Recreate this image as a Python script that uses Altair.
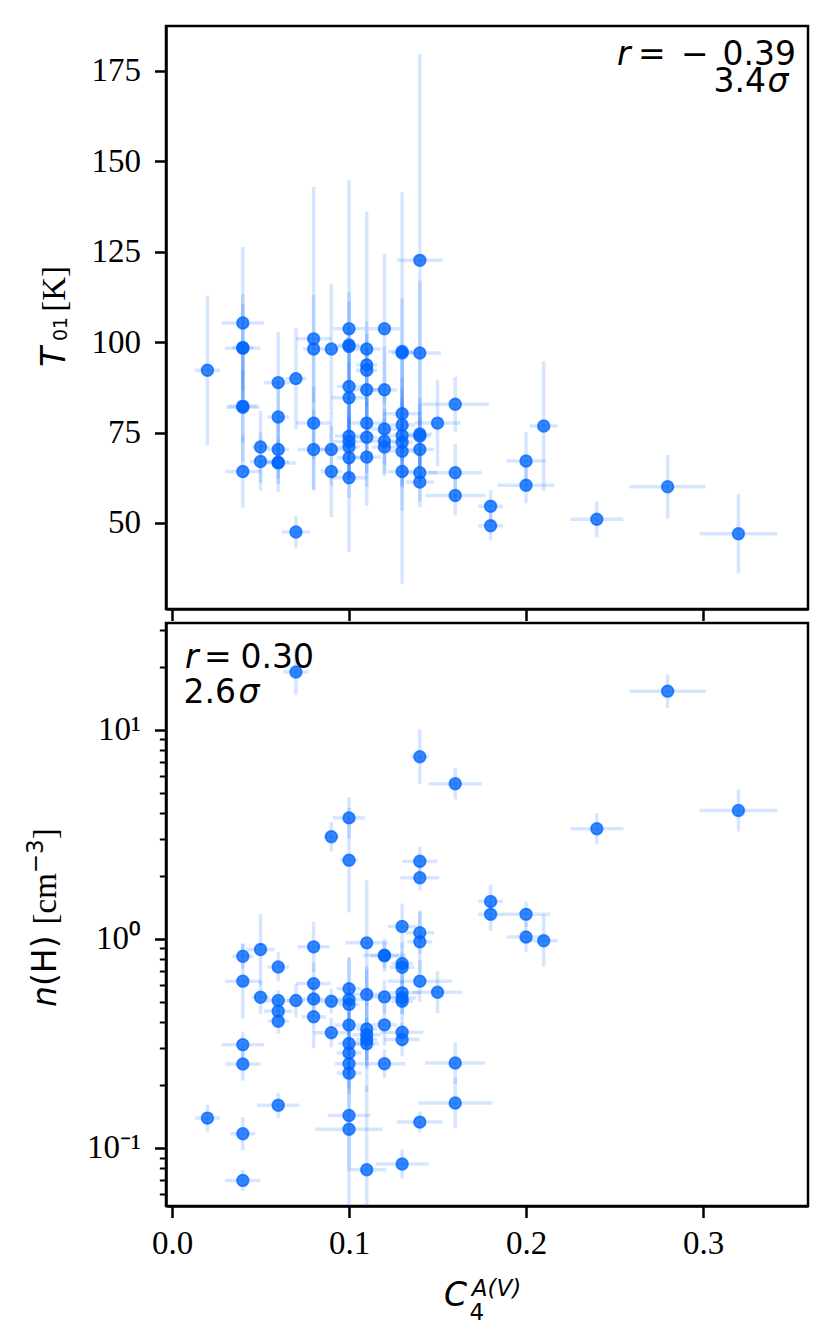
import altair as alt
import pandas as pd

# ---------------- data: upper panel (T01 [K]) ----------------
t_x = [0.02,
       0.04, 0.04, 0.04, 0.04, 0.04, 0.04,
       0.05, 0.05,
       0.06, 0.06, 0.06, 0.06, 0.06,
       0.07, 0.07,
       0.08, 0.08, 0.08, 0.08,
       0.09, 0.09, 0.09,
       0.10, 0.10, 0.10, 0.10, 0.10, 0.10, 0.10, 0.10, 0.10, 0.10,
       0.11, 0.11, 0.11, 0.11, 0.11, 0.11, 0.11,
       0.12, 0.12, 0.12, 0.12, 0.12,
       0.13, 0.13, 0.13, 0.13, 0.13, 0.13, 0.13, 0.13,
       0.14, 0.14, 0.14, 0.14, 0.14, 0.14, 0.14,
       0.15,
       0.16, 0.16, 0.16,
       0.18, 0.18,
       0.20, 0.20,
       0.21, 0.24, 0.28, 0.32]
t_xerr = [0.007,
          0.012, 0.010, 0.006, 0.0095, 0.008, 0.010,
          0.005, 0.006,
          0.008, 0.006, 0.006, 0.010, 0.006,
          0.006, 0.008,
          0.010, 0.006, 0.010, 0.009,
          0.004, 0.006, 0.006,
          0.009, 0.008, 0.006, 0.007, 0.010, 0.008, 0.009, 0.006, 0.007, 0.010,
          0.008, 0.006, 0.006, 0.008, 0.009, 0.006, 0.008,
          0.009, 0.007, 0.010, 0.012, 0.007,
          0.008, 0.006, 0.011, 0.007, 0.009, 0.006, 0.008, 0.008,
          0.013, 0.012, 0.007, 0.006, 0.008, 0.010, 0.008,
          0.013,
          0.019, 0.015, 0.017,
          0.007, 0.007,
          0.011, 0.016,
          0.008, 0.015, 0.0215, 0.022]
t_val = [92.2,
         105.3, 98.3, 98.5, 82.0, 82.3, 64.2,
         71.0, 67.0,
         88.8, 79.3, 70.3, 66.6, 66.8,
         89.9, 47.5,
         100.9, 98.1, 77.6, 70.3,
         98.1, 70.3, 64.2,
         103.7, 98.8, 99.2, 87.7, 84.6, 74.0, 72.5, 71.0, 68.0, 62.5,
         98.1, 93.7, 92.2, 86.8, 77.6, 73.7, 68.2,
         103.7, 86.8, 76.0, 72.6, 71.0,
         97.4, 97.0, 80.2, 77.1, 74.2, 72.3, 69.8, 64.2,
         122.6, 97.0, 74.6, 74.0, 70.3, 63.9, 61.3,
         77.6,
         82.8, 63.9, 57.6,
         54.6, 49.2,
         67.1, 60.4,
         76.8, 51.0, 60.0, 47.0]
t_err = [20.7,
         21, 15, 12, 15, 10, 10,
         10, 8,
         14, 10, 8, 8, 6,
         14, 4.4,
         42, 15, 10, 11,
         18, 10, 12.6,
         41, 15, 12, 13, 10, 12, 10, 9, 11, 20.5,
         38, 12, 10, 12, 10, 10, 13.5,
         20.7, 12, 10, 9, 8,
         44, 15, 10, 10, 9, 12, 10, 31,
         57, 20, 10, 9, 9, 8, 7,
         12,
         7.6, 8, 5.5,
         4.5, 4,
         8, 5,
         18, 5, 8.8, 11]

# ---------------- data: lower panel (n(H) [cm^-3]) ----------------
n_x = [0.02,
       0.04, 0.04, 0.04, 0.04, 0.04, 0.04,
       0.05, 0.05,
       0.06, 0.06, 0.06, 0.06, 0.06,
       0.07, 0.07,
       0.08, 0.08, 0.08, 0.08,
       0.09, 0.09, 0.09,
       0.10, 0.10, 0.10, 0.10, 0.10, 0.10, 0.10, 0.10, 0.10, 0.10, 0.10, 0.10,
       0.11, 0.11, 0.11, 0.11, 0.11, 0.11, 0.11,
       0.12, 0.12, 0.12, 0.12, 0.12,
       0.13, 0.13, 0.13, 0.13, 0.13, 0.13, 0.13, 0.13, 0.13,
       0.14, 0.14, 0.14, 0.14, 0.14, 0.14, 0.14,
       0.15,
       0.16, 0.16, 0.16,
       0.18, 0.18,
       0.20, 0.20,
       0.21, 0.24, 0.28, 0.32]
n_xerr = [0.007,
          0.006, 0.010, 0.012, 0.010, 0.007, 0.010,
          0.008, 0.005,
          0.006, 0.007, 0.008, 0.006, 0.012,
          0.007, 0.005,
          0.009, 0.010, 0.006, 0.007,
          0.004, 0.010, 0.010,
          0.009, 0.005, 0.007, 0.008, 0.006, 0.008, 0.006, 0.007, 0.008, 0.007, 0.012, 0.019,
          0.012, 0.008, 0.006, 0.008, 0.006, 0.007, 0.011,
          0.012, 0.008, 0.008, 0.007, 0.012,
          0.008, 0.006, 0.007, 0.010, 0.008, 0.006, 0.012, 0.010, 0.015,
          0.005, 0.010, 0.011, 0.008, 0.007, 0.018, 0.013,
          0.014,
          0.015, 0.017, 0.021,
          0.007, 0.007,
          0.0135, 0.011,
          0.008, 0.015, 0.0215, 0.022]
n_val = [0.139,
         0.826, 0.628, 0.312, 0.252, 0.117, 0.070,
         0.889, 0.526,
         0.734, 0.507, 0.451, 0.404, 0.160,
         18.9, 0.507,
         0.916, 0.611, 0.516, 0.424,
         3.08, 0.503, 0.356,
         3.79, 2.38, 0.577, 0.513, 0.486, 0.387, 0.316, 0.285, 0.253, 0.228, 0.143, 0.123,
         0.957, 0.542, 0.371, 0.348, 0.330, 0.315, 0.0787,
         0.836, 0.830, 0.528, 0.388, 0.253,
         1.146, 0.762, 0.732, 0.552, 0.522, 0.503, 0.358, 0.330, 0.0838,
         7.43, 2.35, 1.96, 1.07, 0.968, 0.628, 0.133,
         0.556,
         5.52, 0.255, 0.164,
         1.51, 1.31,
         1.31, 1.02,
         0.98, 3.36, 15.3, 4.11]
n_dex = [0.064,
         0.06, 0.18, 0.06, 0.08, 0.08, 0.05,
         0.17, 0.08,
         0.07, 0.05, 0.05, 0.06, 0.06,
         0.11, 0.08,
         0.12, 0.10, 0.08, 0.15,
         0.07, 0.06, 0.07,
         0.10, 0.25, 0.15, 0.20, 0.10, 0.12, 0.15, 0.10, 0.12, 0.10, 0.25, 0.50,
         0.30, 0.12, 0.30, 0.15, 0.10, 0.12, 0.40,
         0.08, 0.06, 0.08, 0.10, 0.07,
         0.11, 0.10, 0.08, 0.10, 0.08, 0.08, 0.07, 0.08, 0.07,
         0.13, 0.07, 0.06, 0.10, 0.15, 0.10, 0.05,
         0.10,
         0.075, 0.10, 0.12,
         0.08, 0.08,
         0.06, 0.07,
         0.125, 0.075, 0.08, 0.10]

x_ticks = [0.0, 0.1, 0.2, 0.3]
t_ticks = [50, 75, 100, 125, 150, 175]
n_ticks = [0.06, 0.07, 0.08, 0.09, 0.1, 0.2, 0.3, 0.4, 0.5, 0.6, 0.7, 0.8, 0.9,
           1, 2, 3, 4, 5, 6, 7, 8, 9, 10, 20, 30]

# ---------------- tables ----------------
top = pd.DataFrame({"x": t_x, "xerr": t_xerr, "v": t_val, "e": t_err})
top["xlo"] = top.x - top.xerr
top["xhi"] = top.x + top.xerr
top["lo"] = top.v - top.e
top["hi"] = top.v + top.e

bot = pd.DataFrame({"x": n_x, "xerr": n_xerr, "v": n_val, "d": n_dex})
bot["xlo"] = bot.x - bot.xerr
bot["xhi"] = bot.x + bot.xerr
bot["lo"] = bot.v / (10 ** bot.d)
bot["hi"] = bot.v * (10 ** bot.d)

BLUE = "#0066ff"
W, H = 642, 583
xscale = alt.Scale(domain=[-0.0034, 0.3593], nice=False, zero=False)
SERIF = "Liberation Serif"
SANS = "DejaVu Sans"


def panel(df, yscale, xaxis, yaxis):
    base = alt.Chart(df)
    vbar = base.mark_rule(color=BLUE, opacity=0.16, strokeWidth=3.5, clip=True).encode(
        x=alt.X("x:Q", scale=xscale, axis=xaxis),
        y=alt.Y("lo:Q", scale=yscale, axis=yaxis),
        y2="hi:Q")
    hbar = base.mark_rule(color=BLUE, opacity=0.16, strokeWidth=3.5, clip=True).encode(
        x=alt.X("xlo:Q", scale=xscale, axis=xaxis),
        x2="xhi:Q",
        y=alt.Y("v:Q", scale=yscale, axis=yaxis))
    pts = base.mark_point(shape="circle", filled=True, size=135, fill=BLUE,
                          fillOpacity=0.78, stroke=BLUE, strokeOpacity=0.75,
                          strokeWidth=1.8, clip=True).encode(
        x=alt.X("x:Q", scale=xscale, axis=xaxis),
        y=alt.Y("v:Q", scale=yscale, axis=yaxis))
    return [vbar, hbar, pts]


def txt(s, x, y, size=33, font=SANS, style="normal", align="left", angle=0):
    return alt.Chart(pd.DataFrame({"t": [s]})).mark_text(
        font=font, fontSize=size, fontStyle=style, align=align,
        baseline="alphabetic", angle=angle, color="black").encode(
        x=alt.value(x), y=alt.value(y), text="t:N")


axis_common = dict(title=None, grid=False, domainColor="black", domainWidth=2.5,
                   tickColor="black", labelColor="black",
                   labelFont=SERIF, labelFlush=False)

top_xaxis = alt.Axis(values=x_ticks, labels=False, tickSize=11.5, tickWidth=2.5,
                     labelFontSize=33, **axis_common)
top_yaxis = alt.Axis(values=t_ticks, tickSize=11.5, tickWidth=2.5, labelPadding=14,
                     labelFontSize=33, **axis_common)

bot_xaxis = alt.Axis(values=x_ticks, format=".1f", tickSize=11.5, tickWidth=2.5,
                     labelPadding=10, labelFontSize=33, **axis_common)
major_test = "abs(log(datum.value)/LN10 - round(log(datum.value)/LN10)) < 0.001"
bot_yaxis = alt.Axis(
    values=n_ticks,
    labelExpr="datum.value == 0.1 ? '10⁻¹' : datum.value == 1 ? '10⁰' : "
              "datum.value == 10 ? '10¹' : ''",
    tickSize={"condition": {"test": major_test, "value": 11.5}, "value": 6.7},
    tickWidth={"condition": {"test": major_test, "value": 2.5}, "value": 2},
    labelFontSize={"condition": {"test": major_test, "value": 33}, "value": 1},
    labelPadding=14, labelOverlap=False, **axis_common)

top_layers = panel(top, alt.Scale(domain=[26.2, 187.4], nice=False, zero=False),
                   top_xaxis, top_yaxis)
top_layers += [
    txt("r", 451, 39.3, style="italic"),
    txt("=", 472, 39.3),
    txt("−", 515, 39.3),
    txt("0.39", 630, 39.3, align="right"),
    txt("3.4", 600, 66, align="right"),
    txt("σ", 601.5, 66, style="italic"),
    # y title  T_01 [K]
    txt("T", -101, 341, style="italic", angle=270),
    txt("01", -99, 315, size=19, angle=270),
    txt("[K]", -101, 285.7, font=SERIF, angle=270),
]
top_chart = alt.layer(*top_layers).properties(width=W, height=H)

bot_layers = panel(bot, alt.Scale(type="log", domain=[0.0528, 32.4], nice=False),
                   bot_xaxis, bot_yaxis)
bot_layers += [
    txt("r", 19, 45, style="italic"),
    txt("=", 38, 45),
    txt("0.30", 74.5, 45),
    txt("2.6", 17.5, 80),
    txt("σ", 72.5, 80, style="italic"),
    # x title  C_4^{A(V)}
    txt("C", 278, 683.3, style="italic"),
    txt("4", 303.5, 696.7, size=23),
    txt("A(V)", 305.7, 673, size=23, style="italic"),
    # y title  n(H) [cm^-3]
    txt("n", -110, 384, style="italic", angle=270),
    txt("(H)", -110, 363, angle=270),
    txt("[cm", -110, 301.5, font=SERIF, angle=270),
    txt("−3", -123, 250.2, size=23, angle=270),
    txt("]", -110, 216.3, font=SERIF, angle=270),
]
bot_chart = alt.layer(*bot_layers).properties(width=W, height=H)

chart = alt.vconcat(top_chart, bot_chart, spacing=-6).resolve_scale(
    y="independent").properties(
    padding={"left": 15, "top": 16, "right": 5, "bottom": 5}
).configure_view(stroke="black", strokeWidth=2.5)

chart.save("out.html", embed_options={"renderer": "svg", "actions": False})
